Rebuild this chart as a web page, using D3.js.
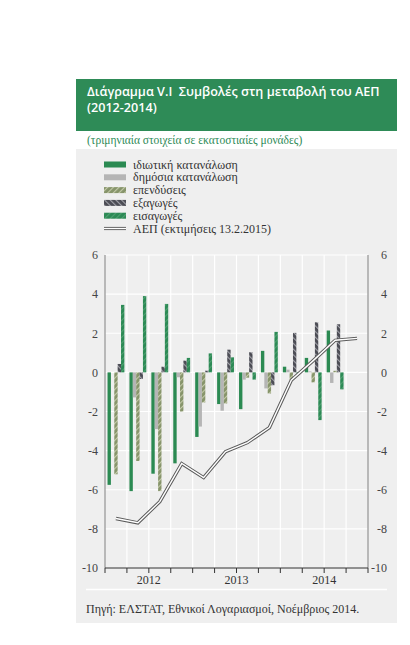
<!DOCTYPE html>
<html><head><meta charset="utf-8">
<script src="https://cdn.jsdelivr.net/npm/d3@7"></script>
<style>body{margin:0;background:#fff} .serif{font-family:"Liberation Serif","Times New Roman","DejaVu Serif",serif;} .ttl{font-family:"Open Sans","Noto Sans",sans-serif;white-space:pre;}</style>
</head><body><svg id="c" width="410" height="645"></svg>
<script>
// ---- data ----
const quarters = ["2012Q1","2012Q2","2012Q3","2012Q4","2013Q1","2013Q2","2013Q3","2013Q4","2014Q1","2014Q2","2014Q3","2014Q4"];
const years = ["2012","2013","2014"];
const privateCons = [-5.75,-6.07,-5.18,-4.65,-3.30,-1.62,-1.88,1.10,0.29,0.74,2.14,null];
const publicCons  = [0.00,-1.28,-2.90,-0.25,-2.77,-1.96,-0.37,-0.82,0.14,0.05,-0.54,null];
const investment  = [-5.21,-4.53,-6.07,-2.00,-1.54,-1.59,-0.27,-1.08,-0.39,-0.51,0.08,null];
const exportsC    = [0.43,-0.34,0.29,0.60,0.09,1.16,1.03,-0.66,2.02,2.56,2.46,null];
const importsC    = [3.45,3.90,3.50,0.74,0.97,0.77,-0.37,2.07,-0.05,-2.44,-0.87,null];
const gdp         = [-7.47,-7.69,-6.61,-4.66,-5.38,-4.05,-3.59,-2.82,-0.40,0.60,1.64,1.74];
const yTicks = [6,4,2,0,-2,-4,-6,-8,-10];
const seriesNames = ["ιδιωτική κατανάλωση","δημόσια κατανάλωση","επενδύσεις","εξαγωγές","εισαγωγές"];
const gdpName = "ΑΕΠ (εκτιμήσεις 13.2.2015)";
const titleLines = ["Διάγραμμα V.I  Συμβολές στη μεταβολή του ΑΕΠ","(2012-2014)"];
const subtitle = "(τριμηνιαία στοιχεία σε εκατοστιαίες μονάδες)";
const source = "Πηγή: ΕΛΣΤΑΤ, Εθνικοί Λογαριασμοί, Νοέμβριος 2014.";

const seriesData = [privateCons, publicCons, investment, exportsC, importsC];
const fills = ["#2b8a52","#b5b5b5","url(#pOlive)","url(#pDark)","url(#pGreen)"];

const svg = d3.select("#c");
const defs = svg.append("defs");
function pattern(id, bg, fg, angle){
  const p = defs.append("pattern").attr("id",id).attr("patternUnits","userSpaceOnUse")
    .attr("width",4).attr("height",4).attr("patternTransform",`rotate(${angle})`);
  p.append("rect").attr("width",4).attr("height",4).attr("fill",bg);
  p.append("rect").attr("width",1.1).attr("height",4).attr("fill",fg);
}
pattern("pOlive","#86946a","#c4caa9",45);
pattern("pDark","#4b4c54","#a3a3aa",-45);
pattern("pGreen","#2c8a55","#4f9f70",45);

// panel
svg.append("rect").attr("x",76).attr("y",79).attr("width",321).attr("height",544).attr("fill","#efefef");
svg.append("rect").attr("x",76).attr("y",131).attr("width",321).attr("height",18).attr("fill","#fff");
// title box
svg.append("rect").attr("x",76).attr("y",79).attr("width",321).attr("height",52).attr("fill","#2e8b57");
svg.append("g").selectAll("text").data(titleLines).join("text")
  .attr("class","ttl")
  .attr("x",87).attr("y",(d,i)=>95.5+i*16.5)
  .attr("fill","#fff")
  .attr("font-weight",600).attr("font-size",12.6)
  .text(d=>d);
svg.append("text").attr("class","serif").attr("x",87).attr("y",143.5).attr("fill","#2e8b57")
  .attr("font-size",11.5).text(subtitle);

// legend
const lg = svg.append("g");
const rowY = i => 164.5 + i*12.8;
seriesNames.forEach((n,i)=>{
  lg.append("rect").attr("x",104).attr("y",rowY(i)-3).attr("width",22).attr("height",6).attr("fill",fills[i]);
  lg.append("text").attr("class","serif").attr("x",133).attr("y",rowY(i)+4).attr("font-size",12)
    .attr("fill","#333").text(n);
});
{
  const yy = rowY(5);
  lg.append("line").attr("x1",104).attr("x2",126).attr("y1",yy).attr("y2",yy).attr("stroke","#666").attr("stroke-width",3.2);
  lg.append("line").attr("x1",104).attr("x2",126).attr("y1",yy).attr("y2",yy).attr("stroke","#fff").attr("stroke-width",1.2);
  lg.append("text").attr("class","serif").attr("x",133).attr("y",yy+4).attr("font-size",12)
    .attr("fill","#333").text(gdpName);
}

// scales
const L = 105, R = 368, T = 255, B = 568;
const x0 = d3.scaleBand().domain(quarters).range([L,R]).paddingInner(0).paddingOuter(0);
const x1 = d3.scaleBand().domain(d3.range(5)).range([0,x0.bandwidth()]).paddingInner(0).paddingOuter(0.75);
const y = d3.scaleLinear().domain([-10,6]).range([B,T]);
const xYear = d3.scaleBand().domain(years).range([L,R]);

// grid
const g = svg.append("g");
g.selectAll("line.h").data(yTicks.filter(t=>t>-10)).join("line")
  .attr("x1",L).attr("x2",R).attr("y1",d=>y(d)).attr("y2",d=>y(d)).attr("stroke","#fff").attr("stroke-width",1.2);
g.selectAll("line.v").data(quarters.slice(1)).join("line")
  .attr("x1",d=>x0(d)).attr("x2",d=>x0(d)).attr("y1",T).attr("y2",B).attr("stroke","#fff").attr("stroke-width",1.2);

// bars
seriesData.forEach((arr,si)=>{
  svg.append("g").selectAll("rect").data(quarters.map((q,i)=>({q,v:arr[i]})).filter(d=>d.v!=null)).join("rect")
    .attr("x",d=>x0(d.q)+x1(si)).attr("width",x1.bandwidth())
    .attr("y",d=>y(Math.max(0,d.v))).attr("height",d=>Math.abs(y(d.v)-y(0)))
    .attr("fill",fills[si]);
});

// gdp line
const line = d3.line().x((d,i)=>x0(quarters[i])+x0.bandwidth()/2).y(d=>y(d));
svg.append("path").attr("d",line(gdp)).attr("fill","none").attr("stroke","#5a5a5a").attr("stroke-width",3.4).attr("stroke-linejoin","miter");
svg.append("path").attr("d",line(gdp)).attr("fill","none").attr("stroke","#fff").attr("stroke-width",1.4).attr("stroke-linejoin","miter");

// axes lines
svg.append("line").attr("x1",L).attr("x2",L).attr("y1",T).attr("y2",B).attr("stroke","#a6a6a6").attr("stroke-width",1.5);
svg.append("line").attr("x1",R).attr("x2",R).attr("y1",T).attr("y2",B).attr("stroke","#a6a6a6").attr("stroke-width",1.5);

const fmt = d => String(d);
const yl = d3.axisLeft(y).tickValues(yTicks).tickFormat(fmt).tickSize(0).tickPadding(7);
const ylg = svg.append("g").attr("transform",`translate(${L},0)`).call(yl);
ylg.attr("font-family",null).attr("font-size",null);
ylg.select(".domain").remove();
ylg.selectAll("text").attr("class","serif").attr("font-size",12).attr("fill","#444");
const yr = d3.axisRight(y).tickValues(yTicks).tickFormat(fmt).tickSize(0).tickPadding(0);
const yrg = svg.append("g").attr("transform",`translate(387,0)`).call(yr);
yrg.attr("font-family",null).attr("font-size",null);
yrg.select(".domain").remove();
yrg.selectAll("text").attr("class","serif").attr("font-size",12).attr("fill","#444").attr("text-anchor","end").attr("x",0);

// bottom axis
const bx = svg.append("g");
bx.append("line").attr("x1",L).attr("x2",R).attr("y1",B).attr("y2",B).attr("stroke","#333").attr("stroke-width",1);
bx.selectAll("line.t").data(quarters.map(q=>x0(q)).concat([R])).join("line")
  .attr("x1",d=>d).attr("x2",d=>d).attr("y1",B).attr("y2",B+5).attr("stroke","#333").attr("stroke-width",1);
bx.selectAll("text").data(years).join("text").attr("class","serif")
  .attr("x",d=>xYear(d)+xYear.bandwidth()/2).attr("y",584).attr("text-anchor","middle")
  .attr("font-size",12).attr("fill","#333").text(d=>d);

// footer
svg.append("line").attr("x1",86).attr("x2",387).attr("y1",589.5).attr("y2",589.5).attr("stroke","#fff").attr("stroke-width",1.5);
svg.append("text").attr("class","serif").attr("x",86).attr("y",612.5).attr("font-size",12).attr("fill","#333").text(source);
</script></body></html>
